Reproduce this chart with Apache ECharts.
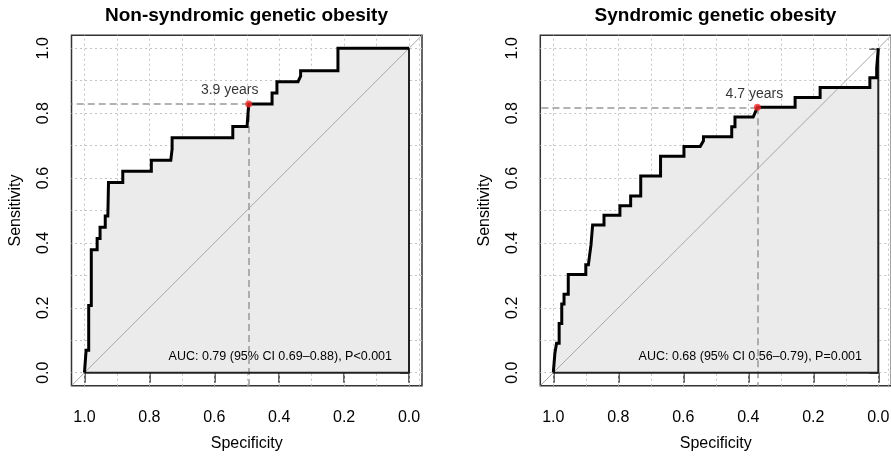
<!DOCTYPE html>
<html>
<head>
<meta charset="utf-8">
<script src="https://cdn.jsdelivr.net/npm/echarts@6/dist/echarts.min.js"></script>
<style>
html, body { margin: 0; padding: 0; background: #fff; }
#main { width: 891px; height: 457px; }
</style>
</head>
<body>
<div id="main"></div>
<script>
// panel texts
var panelTitles = ["Non-syndromic genetic obesity", "Syndromic genetic obesity"];
var aucTexts = ["AUC: 0.79 (95% CI 0.69\u20130.88), P<0.001", "AUC: 0.68 (95% CI 0.56\u20130.79), P=0.001"];
var tickValues = [0, 0.2, 0.4, 0.6, 0.8, 1.0];
var gridValues = [0, 0.1, 0.2, 0.3, 0.4, 0.5, 0.6, 0.7, 0.8, 0.9, 1.0];
var extraGridSpec = [-0.03];

// ROC curve, non-syndromic (specificity / sensitivity)
var nonSynSpec = [1.0, 0.995, 0.995, 0.987, 0.987, 0.979, 0.979, 0.961, 0.961, 0.952, 0.952, 0.936, 0.936, 0.928, 0.926,
  0.882, 0.882, 0.794, 0.794, 0.734, 0.730, 0.730, 0.543, 0.543, 0.499, 0.494, 0.422, 0.422, 0.407, 0.407, 0.342, 0.334,
  0.334, 0.219, 0.219, 0.0];
var nonSynSens = [0, 0, 0.069, 0.069, 0.207, 0.207, 0.379, 0.379, 0.414, 0.414, 0.448, 0.448, 0.483, 0.483, 0.586,
  0.586, 0.621, 0.621, 0.655, 0.655, 0.690, 0.724, 0.724, 0.759, 0.759, 0.828, 0.828, 0.862, 0.862, 0.897, 0.897, 0.914,
  0.931, 0.931, 1.0, 1.0];

// ROC curve, syndromic
var synSpec = [1.0, 0.995, 0.995, 0.990, 0.990, 0.982, 0.982, 0.974, 0.974, 0.967, 0.967, 0.954, 0.954, 0.900, 0.900,
  0.892, 0.888, 0.884, 0.879, 0.844, 0.844, 0.795, 0.795, 0.762, 0.762, 0.731, 0.731, 0.670, 0.670, 0.598, 0.598, 0.548,
  0.538, 0.538, 0.451, 0.451, 0.441, 0.441, 0.385, 0.372, 0.256, 0.256, 0.179, 0.179, 0.026, 0.026, 0.005, 0.005, 0.0, 0.0];
var synSens = [0, 0, 0.061, 0.061, 0.091, 0.091, 0.152, 0.152, 0.212, 0.212, 0.242, 0.242, 0.303, 0.303, 0.333,
  0.333, 0.364, 0.394, 0.455, 0.455, 0.485, 0.485, 0.515, 0.515, 0.545, 0.545, 0.606, 0.606, 0.667, 0.667, 0.697, 0.697,
  0.715, 0.727, 0.727, 0.758, 0.758, 0.788, 0.788, 0.818, 0.818, 0.848, 0.848, 0.879, 0.879, 0.909, 0.909, 0.939, 0.939, 1.0];

// best cut-offs
var bestLabels = ["3.9 years", "4.7 years"];
var bestSpec = [0.494, 0.372];
var bestSens = [0.828, 0.818];

// chance line (corner to corner of the plot region) and closing edge of the AUC polygon
var diagSpec = [1.04, -0.04];
var diagSens = [-0.04, 1.04];
var closeSpec = [0, 0, 1];
var closeSens = [1, 0, 0];

var FONT = '"Liberation Sans", Arial, Helvetica, sans-serif';
var AXMIN = -0.04, AXMAX = 1.04;

function zip(a, b) {
  return a.map(function (v, i) { return [v, b[i]]; });
}

var grids = [
  { left: 71.5, top: 35.3, width: 350.5, height: 350.4 },
  { left: 540.3, top: 35.3, width: 351, height: 350.4 }
];
var labelShift = [-19, -3];   // "x years" text offset
var aucRight = [392, 862];    // right end of AUC text
var titleX = [246.5, 715.5];

var xAxes = [], yAxes = [], series = [], graphics = [];
var curves = [[nonSynSpec, nonSynSens], [synSpec, synSens]];

for (var i = 0; i < 2; i++) {
  grids[i].show = true;
  grids[i].borderColor = '#333';
  grids[i].borderWidth = 1.5;
  grids[i].outerBoundsMode = 'none';

  xAxes.push({
    gridIndex: i, type: 'value', min: AXMIN, max: AXMAX, inverse: true,
    axisLine: { show: false }, splitLine: { show: false },
    axisTick: { show: true, customValues: tickValues, length: 10, lineStyle: { color: '#333', width: 1.5 } },
    axisLabel: { customValues: tickValues, margin: 24, fontSize: 16, color: '#000', fontFamily: FONT,
      formatter: function (v) { return v.toFixed(1); } },
    name: 'Specificity', nameLocation: 'middle', nameGap: 50,
    nameTextStyle: { fontSize: 16, color: '#000', fontFamily: FONT }
  });
  yAxes.push({
    gridIndex: i, type: 'value', min: AXMIN, max: AXMAX,
    axisLine: { show: false }, splitLine: { show: false },
    axisTick: { show: true, customValues: tickValues, length: 9, lineStyle: { color: '#333', width: 1.5 } },
    axisLabel: { customValues: tickValues, margin: 20, rotate: 90, fontSize: 16, color: '#000', fontFamily: FONT,
      formatter: function (v) { return v.toFixed(1); } },
    name: 'Sensitivity', nameLocation: 'middle', nameGap: 48,
    nameTextStyle: { fontSize: 16, color: '#000', fontFamily: FONT }
  });

  var pts = zip(curves[i][0], curves[i][1]);

  // dotted grid
  series.push({
    type: 'line', xAxisIndex: i, yAxisIndex: i, data: [], z: 1, silent: true,
    markLine: {
      z: 1, silent: true, symbol: ['none', 'none'], label: { show: false },
      lineStyle: { color: '#c4c4c4', type: [2, 3], width: 1 },
      data: gridValues.concat(extraGridSpec).map(function (v) { return { xAxis: v }; })
        .concat(gridValues.map(function (v) { return { yAxis: v }; }))
    }
  });
  // AUC shading
  series.push({
    type: 'line', xAxisIndex: i, yAxisIndex: i, data: pts, z: 2, silent: true,
    symbol: 'none', lineStyle: { width: 0 },
    areaStyle: { color: '#ebebeb', opacity: 1, origin: 'auto' }
  });
  // chance diagonal
  series.push({
    type: 'line', xAxisIndex: i, yAxisIndex: i, data: zip(diagSpec, diagSens), z: 3, silent: true,
    symbol: 'none', lineStyle: { color: '#a6a6a6', width: 1 }
  });
  // cut-off guide lines
  series.push({
    type: 'scatter', xAxisIndex: i, yAxisIndex: i, data: [[bestSpec[i], bestSens[i]]], z: 4, silent: true,
    symbolSize: 0,
    markLine: {
      z: 4, silent: true, symbol: ['none', 'none'], label: { show: false },
      lineStyle: { color: '#999', type: [7, 4], width: 1.5 },
      data: [
        [{ coord: [bestSpec[i], bestSens[i]] }, { coord: [AXMAX, bestSens[i]] }],
        [{ coord: [bestSpec[i], bestSens[i]] }, { coord: [bestSpec[i], AXMIN] }]
      ]
    }
  });
  // AUC polygon closing edge
  series.push({
    type: 'line', xAxisIndex: i, yAxisIndex: i, data: zip(closeSpec, closeSens), z: 5, silent: true,
    symbol: 'none', lineStyle: { color: '#222', width: 2 }
  });
  // ROC curve
  series.push({
    type: 'line', xAxisIndex: i, yAxisIndex: i, data: pts, z: 6, silent: true,
    symbol: 'none', lineStyle: { color: '#000', width: 3, join: 'miter' }
  });
  // best point
  series.push({
    type: 'scatter', xAxisIndex: i, yAxisIndex: i, data: [[bestSpec[i], bestSens[i]]], z: 7, silent: true,
    symbolSize: 7, itemStyle: { color: '#f42a2a' },
    label: { show: true, position: 'top', distance: 3, offset: [labelShift[i], 0], formatter: bestLabels[i],
      fontSize: 14, color: '#000', fontFamily: FONT }
  });

  graphics.push({
    type: 'text', x: titleX[i], y: 16,
    style: { text: panelTitles[i], align: 'center', verticalAlign: 'middle',
      font: 'bold 19px ' + FONT, fill: '#000' }
  });
  graphics.push({
    type: 'text', x: aucRight[i], y: 357, z: 10,
    style: { text: aucTexts[i], align: 'right', verticalAlign: 'middle',
      font: '12.5px ' + FONT, fill: '#000' }
  });
}

var chart = echarts.init(document.getElementById('main'));
chart.setOption({
  animation: false,
  backgroundColor: '#fff',
  grid: grids,
  xAxis: xAxes,
  yAxis: yAxes,
  series: series,
  graphic: graphics
});
</script>
</body>
</html>
